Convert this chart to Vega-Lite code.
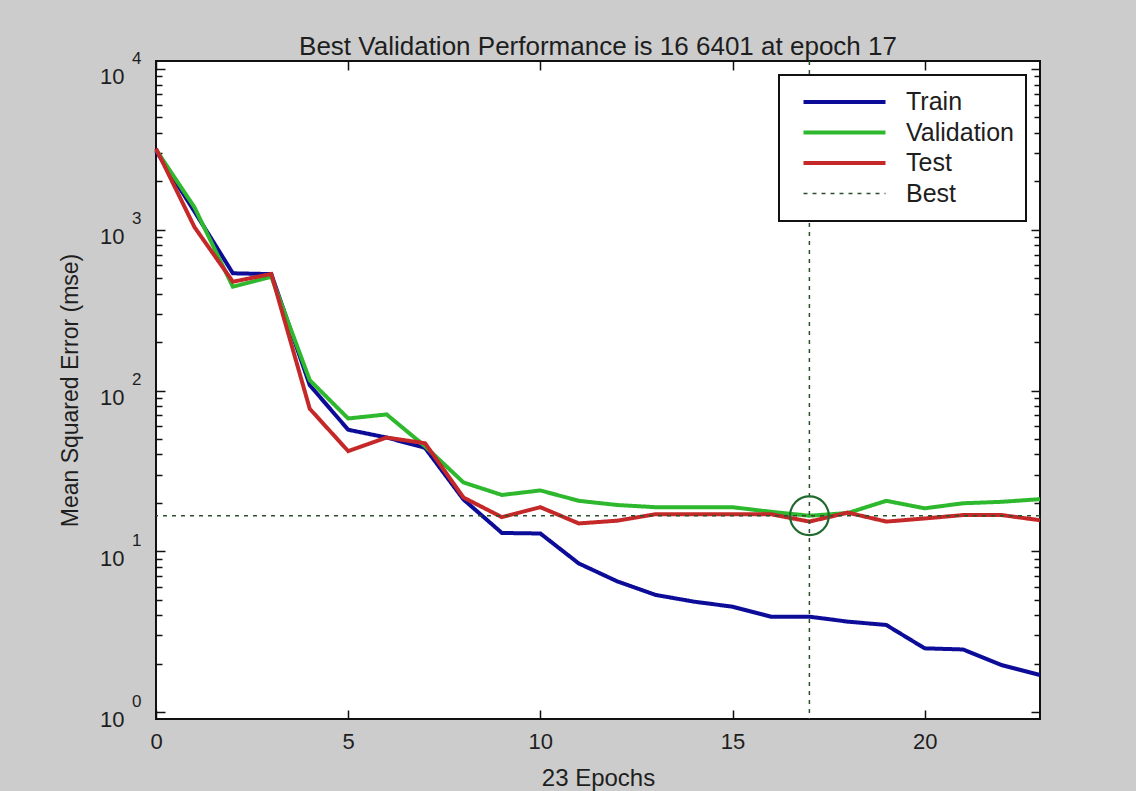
{
  "$schema": "https://vega.github.io/schema/vega-lite/v6.json",
  "width": 884,
  "height": 658,
  "autosize": {"type": "none"},
  "padding": {"left": 156, "top": 61, "right": 96, "bottom": 72},
  "background": "#cccccc",
  "title": {"text": "Best Validation Performance is 16 6401 at epoch 17", "fontSize": 26, "font": "Liberation Sans", "fontWeight": "normal", "color": "#1e1e1e", "offset": 6, "dy": 38, "baseline": "alphabetic", "anchor": "middle"},
  "datasets": {
    "perf": [
      {"epoch": 0, "series": "Train", "mse": 3100}, {"epoch": 1, "series": "Train", "mse": 1300}, {"epoch": 2, "series": "Train", "mse": 536}, {"epoch": 3, "series": "Train", "mse": 530},
      {"epoch": 4, "series": "Train", "mse": 108}, {"epoch": 5, "series": "Train", "mse": 57}, {"epoch": 6, "series": "Train", "mse": 51}, {"epoch": 7, "series": "Train", "mse": 44},
      {"epoch": 8, "series": "Train", "mse": 21}, {"epoch": 9, "series": "Train", "mse": 13.0}, {"epoch": 10, "series": "Train", "mse": 12.9}, {"epoch": 11, "series": "Train", "mse": 8.4},
      {"epoch": 12, "series": "Train", "mse": 6.5}, {"epoch": 13, "series": "Train", "mse": 5.35}, {"epoch": 14, "series": "Train", "mse": 4.86}, {"epoch": 15, "series": "Train", "mse": 4.52},
      {"epoch": 16, "series": "Train", "mse": 3.92}, {"epoch": 17, "series": "Train", "mse": 3.92}, {"epoch": 18, "series": "Train", "mse": 3.65}, {"epoch": 19, "series": "Train", "mse": 3.48},
      {"epoch": 20, "series": "Train", "mse": 2.49}, {"epoch": 21, "series": "Train", "mse": 2.45}, {"epoch": 22, "series": "Train", "mse": 1.96}, {"epoch": 23, "series": "Train", "mse": 1.70},
      {"epoch": 0, "series": "Validation", "mse": 3150}, {"epoch": 1, "series": "Validation", "mse": 1380}, {"epoch": 2, "series": "Validation", "mse": 442}, {"epoch": 3, "series": "Validation", "mse": 510},
      {"epoch": 4, "series": "Validation", "mse": 116}, {"epoch": 5, "series": "Validation", "mse": 67}, {"epoch": 6, "series": "Validation", "mse": 71}, {"epoch": 7, "series": "Validation", "mse": 45},
      {"epoch": 8, "series": "Validation", "mse": 26.8}, {"epoch": 9, "series": "Validation", "mse": 22.4}, {"epoch": 10, "series": "Validation", "mse": 23.9}, {"epoch": 11, "series": "Validation", "mse": 20.6},
      {"epoch": 12, "series": "Validation", "mse": 19.4}, {"epoch": 13, "series": "Validation", "mse": 18.8}, {"epoch": 14, "series": "Validation", "mse": 18.8}, {"epoch": 15, "series": "Validation", "mse": 18.8},
      {"epoch": 16, "series": "Validation", "mse": 17.6}, {"epoch": 17, "series": "Validation", "mse": 16.64}, {"epoch": 18, "series": "Validation", "mse": 17.3}, {"epoch": 19, "series": "Validation", "mse": 20.6},
      {"epoch": 20, "series": "Validation", "mse": 18.5}, {"epoch": 21, "series": "Validation", "mse": 19.9}, {"epoch": 22, "series": "Validation", "mse": 20.3}, {"epoch": 23, "series": "Validation", "mse": 21.1},
      {"epoch": 0, "series": "Test", "mse": 3200}, {"epoch": 1, "series": "Test", "mse": 1040}, {"epoch": 2, "series": "Test", "mse": 475}, {"epoch": 3, "series": "Test", "mse": 531},
      {"epoch": 4, "series": "Test", "mse": 77}, {"epoch": 5, "series": "Test", "mse": 42}, {"epoch": 6, "series": "Test", "mse": 51}, {"epoch": 7, "series": "Test", "mse": 47},
      {"epoch": 8, "series": "Test", "mse": 21.6}, {"epoch": 9, "series": "Test", "mse": 16.3}, {"epoch": 10, "series": "Test", "mse": 18.8}, {"epoch": 11, "series": "Test", "mse": 14.9},
      {"epoch": 12, "series": "Test", "mse": 15.5}, {"epoch": 13, "series": "Test", "mse": 17.0}, {"epoch": 14, "series": "Test", "mse": 17.0}, {"epoch": 15, "series": "Test", "mse": 17.0},
      {"epoch": 16, "series": "Test", "mse": 17.0}, {"epoch": 17, "series": "Test", "mse": 15.3}, {"epoch": 18, "series": "Test", "mse": 17.4}, {"epoch": 19, "series": "Test", "mse": 15.3},
      {"epoch": 20, "series": "Test", "mse": 16.0}, {"epoch": 21, "series": "Test", "mse": 16.8}, {"epoch": 22, "series": "Test", "mse": 16.8}, {"epoch": 23, "series": "Test", "mse": 15.6}
    ],
    "bestY": [{"series": "Best", "mse": 16.6401}],
    "bestX": [{"series": "Best", "epoch": 17}],
    "bestPt": [{"epoch": 17, "mse": 16.6401}]
  },
  "layer": [
    {
      "data": {"name": "perf"},
      "mark": {"type": "line", "strokeWidth": 4},
      "encoding": {
        "x": {"field": "epoch", "type": "quantitative", "scale": {"domain": [0, 23], "nice": false, "zero": false},
          "axis": {"orient": "bottom", "values": [0, 5, 10, 15, 20], "tickSize": -9, "labelPadding": 21, "domain": false, "grid": false, "title": "23 Epochs", "titleFontSize": 24, "titleY": 66, "titleBaseline": "alphabetic"}},
        "y": {"field": "mse", "type": "quantitative", "scale": {"type": "log", "domain": [0.905, 11215], "nice": false},
          "axis": {"orient": "left", "values": [1, 10, 100, 1000, 10000], "labelExpr": "'10'", "tickSize": -9, "labelPadding": 41, "labelOffset": 7, "domain": false, "grid": false, "title": "Mean Squared Error (mse)", "titleFontSize": 23, "titleX": -79, "titleBaseline": "alphabetic"}},
        "color": {"field": "series", "type": "nominal", "title": null, "scale": {"domain": ["Train", "Validation", "Test", "Best"], "range": ["#0c0c98", "#2eb82e", "#c42828", "#2c4f2c"]},
          "legend": {"encode": {"symbols": {"update": {"strokeWidth": {"signal": "datum.value === 'Best' ? 1.5 : 4"}}}}}},
        "strokeDash": {"field": "series", "type": "nominal", "title": null, "scale": {"domain": ["Train", "Validation", "Test", "Best"], "range": [[1, 0], [1, 0], [1, 0], [4, 5]]}}
      }
    },
    {
      "data": {"name": "bestY"},
      "mark": {"type": "rule", "color": "#2c4f2c", "strokeWidth": 1.5, "strokeDash": [4, 5]},
      "encoding": {
        "y": {"field": "mse", "type": "quantitative",
          "axis": {"orient": "left", "values": [1, 10, 100, 1000, 10000], "labelExpr": "format(log(datum.value)/LN10, 'd')", "ticks": false, "tickSize": 0, "labelPadding": 15, "labelOffset": -11, "labelFontSize": 17, "domain": false, "grid": false, "title": null}}
      }
    },
    {
      "data": {"name": "bestX"},
      "mark": {"type": "rule", "color": "#2c4f2c", "strokeWidth": 1.5, "strokeDash": [4, 5]},
      "encoding": {
        "x": {"field": "epoch", "type": "quantitative",
          "axis": {"orient": "top", "values": [0, 5, 10, 15, 20], "labels": false, "tickSize": -9, "domain": false, "grid": false, "title": null}}
      }
    },
    {
      "data": {"name": "bestPt"},
      "mark": {"type": "point", "shape": "circle", "size": 1500, "filled": false, "stroke": "#1f6a2c", "strokeWidth": 2.2, "opacity": 1},
      "encoding": {
        "x": {"field": "epoch", "type": "quantitative", "axis": null},
        "y": {"field": "mse", "type": "quantitative",
          "axis": {"orient": "right", "values": [1, 10, 100, 1000, 10000], "labels": false, "tickSize": -9, "domain": false, "grid": false, "title": null}}
      }
    },
    {
      "data": {"name": "bestPt"},
      "mark": {"type": "point", "opacity": 0},
      "encoding": {
        "x": {"field": "epoch", "type": "quantitative", "axis": null},
        "y": {"field": "mse", "type": "quantitative",
          "axis": {"orient": "right", "values": [2, 3, 4, 5, 6, 7, 8, 9, 20, 30, 40, 50, 60, 70, 80, 90, 200, 300, 400, 500, 600, 700, 800, 900, 2000, 3000, 4000, 5000, 6000, 7000, 8000, 9000], "labels": false, "tickSize": -6, "domain": false, "grid": false, "title": null}}
      }
    },
    {
      "data": {"name": "bestPt"},
      "mark": {"type": "point", "opacity": 0},
      "encoding": {
        "x": {"field": "epoch", "type": "quantitative", "axis": null},
        "y": {"field": "mse", "type": "quantitative",
          "axis": {"orient": "left", "values": [2, 3, 4, 5, 6, 7, 8, 9, 20, 30, 40, 50, 60, 70, 80, 90, 200, 300, 400, 500, 600, 700, 800, 900, 2000, 3000, 4000, 5000, 6000, 7000, 8000, 9000], "labels": false, "tickSize": -6, "domain": false, "grid": false, "title": null}}
      }
    }
  ],
  "resolve": {"axis": {"x": "independent", "y": "independent"}},
  "config": {
    "font": "Liberation Sans",
    "view": {"fill": "white", "stroke": "#111111", "strokeWidth": 2},
    "axis": {"labelFont": "Liberation Sans", "labelFontSize": 22, "labelColor": "#1e1e1e", "labelFlush": false, "labelOverlap": false, "tickColor": "#111111", "tickWidth": 1.5, "titleFont": "Liberation Sans", "titleFontWeight": "normal", "titleColor": "#1e1e1e"},
    "legend": {"orient": "top-right", "offset": 14, "padding": 12, "fillColor": "white", "strokeColor": "#111111", "strokeWidth": 2, "symbolType": "stroke", "symbolSize": 6724, "symbolStrokeWidth": 4, "symbolOffset": 41, "labelOffset": 49, "labelFont": "Liberation Sans", "labelFontSize": 25, "labelColor": "#1e1e1e", "clipHeight": 30, "rowPadding": 0.5}
  }
}
